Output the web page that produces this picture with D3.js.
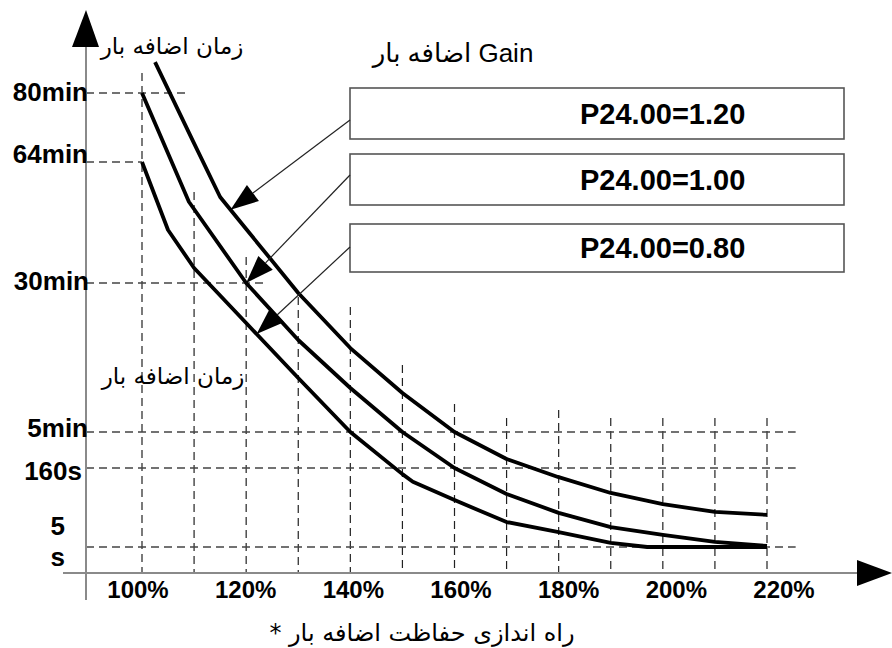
<!DOCTYPE html>
<html>
<head>
<meta charset="utf-8">
<script src="https://cdn.jsdelivr.net/npm/d3@7"></script>
<style>
  body { margin: 0; background: #fff; }
  svg { display: block; }
</style>
</head>
<body>
<div class="chart"></div>
<script>
// overload load (%) vs allowed time (seconds), one array pair per gain setting
var gains = ["P24.00=1.20", "P24.00=1.00", "P24.00=0.80"];

var loadHigh = [102.5, 110, 115, 120, 130, 140, 150, 160, 170, 180, 190, 200, 210, 220];
var timeHigh = [5230, 4100, 3250, 2710, 1700, 1145, 692, 300, 195, 142, 111, 89, 74, 68];

var loadMid = [100, 109, 120, 130, 140, 150, 160, 170, 180, 190, 200, 210, 220];
var timeMid = [4800, 3170, 1800, 1226, 743, 300, 160, 109, 72, 44, 29, 15, 7];

var loadLow = [100, 105, 110, 120, 130, 140, 150, 152, 160, 170, 180, 190, 197, 220];
var timeLow = [3840, 2694, 2053, 1397, 843, 300, 148, 133, 97, 54, 34, 13, 5, 5];

var xTicks = [100, 110, 120, 130, 140, 150, 160, 170, 180, 190, 200, 210, 220];
var xLabels = ["100%", "120%", "140%", "160%", "180%", "200%", "220%"];
var yTicks = [4800, 3840, 1800, 300, 160, 5];
var yLabels = ["80min", "64min", "30min", "5min", "160s", "5 s"];

// where each arrow touches its curve (% load)
var arrowLoad = [117, 120, 122];

var width = 892, height = 648;

var svg = d3.select('.chart')
    .append('svg')
    .attr('width', width)
    .attr('height', height);

var x = d3.scaleLinear()
    .domain([100, 220])
    .range([142, 767]);

// labels on the bottom are spread a little wider than the grid
var xLab = d3.scaleLinear()
    .domain([0, xLabels.length - 1])
    .range([138, 784]);

// the time axis is not uniform: piecewise scale through the labelled times
var y = d3.scaleLinear()
    .domain(yTicks)
    .range([93, 162, 283, 432, 468, 547]);

var axisX0 = 86, axisY0 = 573;
var dash = "8,5";

// vertical dashed grid, each line starts at its own height
var gridTop = [73, 192, 257, 297, 307, 365, 404, 418, 410, 418, 418, 418, 418];
svg.append('g')
    .selectAll('line')
    .data(xTicks)
    .enter()
    .append('line')
    .attr('x1', d => x(d))
    .attr('x2', d => x(d))
    .attr('y1', (d, i) => gridTop[i])
    .attr('y2', axisY0)
    .attr('stroke', '#222')
    .attr('stroke-width', 1.2)
    .attr('stroke-dasharray', dash);

// horizontal dashed grid
var gridEnd = [108.5, 100, 123.5, 225.5, 225.5, 225.5];
svg.append('g')
    .selectAll('line')
    .data(yTicks)
    .enter()
    .append('line')
    .attr('x1', axisX0)
    .attr('x2', (d, i) => x(gridEnd[i]))
    .attr('y1', d => y(d))
    .attr('y2', d => y(d))
    .attr('stroke', '#444')
    .attr('stroke-width', 1.3)
    .attr('stroke-dasharray', dash);

// axes
svg.append('line')
    .attr('x1', axisX0).attr('x2', axisX0)
    .attr('y1', 45).attr('y2', 600)
    .attr('stroke', '#8a8a8a').attr('stroke-width', 2);
svg.append('line')
    .attr('x1', 63).attr('x2', 860)
    .attr('y1', axisY0).attr('y2', axisY0)
    .attr('stroke', '#8a8a8a').attr('stroke-width', 2);
svg.append('path')
    .attr('d', `M${axisX0},10L${axisX0 - 14},47L${axisX0 + 13},47Z`)
    .attr('fill', '#000');
svg.append('path')
    .attr('d', `M892,${axisY0}L857,${axisY0 - 13}L857,${axisY0 + 13}Z`)
    .attr('fill', '#000');

// y labels
var yLabelDy = [8, 1, 7, 5, 12];
var yLabelRight = [88, 88, 89, 88, 82];
svg.append('g')
    .selectAll('text')
    .data(yTicks.slice(0, 5))
    .enter()
    .append('text')
    .attr('x', (d, i) => yLabelRight[i])
    .attr('y', (d, i) => y(d) + yLabelDy[i])
    .attr('text-anchor', 'end')
    .attr('font-family', 'Liberation Sans, Arial, sans-serif')
    .attr('font-weight', 'bold')
    .attr('font-size', 26)
    .text((d, i) => yLabels[i]);

// "5 s" is split over two lines
var fiveSec = svg.append('text')
    .attr('text-anchor', 'end')
    .attr('font-family', 'Liberation Sans, Arial, sans-serif')
    .attr('font-weight', 'bold')
    .attr('font-size', 26);
fiveSec.selectAll('tspan')
    .data(yLabels[5].split(' '))
    .enter()
    .append('tspan')
    .attr('x', 65)
    .attr('y', (d, i) => y(5) - 12 + i * 31)
    .text(d => d);

// x labels
svg.append('g')
    .selectAll('text')
    .data(xLabels)
    .enter()
    .append('text')
    .attr('x', (d, i) => xLab(i))
    .attr('y', 598)
    .attr('text-anchor', 'middle')
    .attr('font-family', 'Liberation Sans, Arial, sans-serif')
    .attr('font-weight', 'bold')
    .attr('font-size', 24)
    .text(d => d);

// curves
var curves = [
    d3.zip(loadHigh, timeHigh),
    d3.zip(loadMid, timeMid),
    d3.zip(loadLow, timeLow)
];

var line = d3.line()
    .x(d => x(d[0]))
    .y(d => y(d[1]));

svg.append('g')
    .selectAll('path')
    .data(curves)
    .enter()
    .append('path')
    .attr('d', line)
    .attr('fill', 'none')
    .attr('stroke', '#000')
    .attr('stroke-width', 3.8)
    .attr('stroke-linejoin', 'round');

// gain boxes
var boxTop = [88, 154, 224];
var boxH = [51, 51, 48];
var boxAnchor = [32, 21, 23];
var boxes = svg.append('g')
    .selectAll('g')
    .data(gains)
    .enter()
    .append('g');

boxes.append('rect')
    .attr('x', 350)
    .attr('y', (d, i) => boxTop[i])
    .attr('width', 494)
    .attr('height', (d, i) => boxH[i])
    .attr('fill', '#fff')
    .attr('stroke', '#555')
    .attr('stroke-width', 1.6);

boxes.append('text')
    .attr('x', 580)
    .attr('y', (d, i) => boxTop[i] + boxH[i] / 2 + 10)
    .attr('font-family', 'Liberation Sans, Arial, sans-serif')
    .attr('font-weight', 'bold')
    .attr('font-size', 29)
    .text(d => d);

// arrows from each box to its curve
function curveY(c, load) {
    var px = c.map(d => [x(d[0]), y(d[1])]);
    var xx = x(load);
    for (var k = 1; k < px.length; k++) {
        if (xx <= px[k][0]) {
            var t = (xx - px[k - 1][0]) / (px[k][0] - px[k - 1][0]);
            return px[k - 1][1] + t * (px[k][1] - px[k - 1][1]);
        }
    }
    return px[px.length - 1][1];
}

gains.forEach((g, i) => {
    var sx = 350, sy = boxTop[i] + boxAnchor[i];
    var tx = x(arrowLoad[i]), ty = curveY(curves[i], arrowLoad[i]);
    var dx = tx - sx, dy = ty - sy;
    var len = Math.sqrt(dx * dx + dy * dy);
    var ux = dx / len, uy = dy / len;
    var headL = 28, headW = 10;
    var bx = tx - ux * headL, by = ty - uy * headL;

    svg.append('line')
        .attr('x1', sx).attr('y1', sy)
        .attr('x2', bx).attr('y2', by)
        .attr('stroke', '#222')
        .attr('stroke-width', 1.2);

    svg.append('path')
        .attr('d', `M${tx},${ty}L${bx - uy * headW},${by + ux * headW}L${bx + uy * headW},${by - ux * headW}Z`)
        .attr('fill', '#000');
});

// persian captions
var fa = 'DejaVu Sans, sans-serif';
svg.append('text')
    .attr('x', 172).attr('y', 54)
    .attr('text-anchor', 'middle')
    .attr('direction', 'rtl')
    .attr('font-family', fa)
    .attr('font-size', 23)
    .text('زمان اضافه بار');

svg.append('text')
    .attr('x', 173).attr('y', 384)
    .attr('text-anchor', 'middle')
    .attr('direction', 'rtl')
    .attr('font-family', fa)
    .attr('font-size', 23)
    .text('زمان اضافه بار');

svg.append('text')
    .attr('x', 453).attr('y', 62)
    .attr('text-anchor', 'middle')
    .attr('direction', 'rtl')
    .attr('font-family', 'Liberation Sans, DejaVu Sans, sans-serif')
    .attr('font-size', 26)
    .text('Gain اضافه بار');

svg.append('text')
    .attr('x', 422).attr('y', 641)
    .attr('text-anchor', 'middle')
    .attr('direction', 'rtl')
    .attr('font-family', fa)
    .attr('font-size', 24)
    .text('راه اندازی حفاظت اضافه بار *');
</script>
</body>
</html>
